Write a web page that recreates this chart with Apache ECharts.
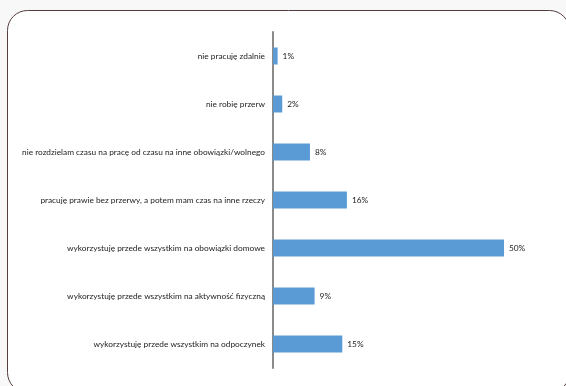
<!DOCTYPE html>
<html>
<head>
<meta charset="utf-8">
<script src="https://cdn.jsdelivr.net/npm/echarts@6/dist/echarts.min.js"></script>
<style>
  html, body { margin: 0; padding: 0; background: #f8f8f8; }
  #chart { width: 566px; height: 386px; }
</style>
</head>
<body>
<div id="chart"></div>
<script>
// categories listed bottom to top (category axis grows upward)
const categories = [
  'wykorzystuję przede wszystkim na odpoczynek',
  'wykorzystuję przede wszystkim na aktywność fizyczną',
  'wykorzystuję przede wszystkim na obowiązki domowe',
  'pracuję prawie bez przerwy, a potem mam czas na inne rzeczy',
  'nie rozdzielam czasu na pracę od czasu na inne obowiązki/wolnego',
  'nie robię przerw',
  'nie pracuję zdalnie'
]
const values = [15, 9, 50, 16, 8, 2, 1]

const chart = echarts.init(document.getElementById('chart'))
chart.setOption({
  animation: false,
  backgroundColor: '#f8f8f8',
  graphic: [{
    type: 'rect',
    z: -10,
    shape: { x: 7.5, y: 10.5, width: 562, height: 382, r: 20 },
    style: { fill: '#ffffff', stroke: '#553c3c', lineWidth: 1 }
  }],
  grid: {
    left: 273,
    top: 32,
    width: 231,
    height: 336
  },
  xAxis: {
    type: 'value',
    min: 0,
    max: 50,
    show: false
  },
  yAxis: {
    type: 'category',
    data: categories,
    axisLine: { show: true, lineStyle: { color: '#8a8a8a', width: 2 } },
    axisTick: { show: false },
    axisLabel: {
      margin: 8,
      fontFamily: 'Lato',
      fontSize: 8.3,
      color: '#222222'
    }
  },
  series: [{
    type: 'bar',
    data: values,
    barWidth: 17,
    itemStyle: { color: '#5b9bd5' },
    label: {
      show: true,
      position: 'right',
      distance: 5,
      formatter: '{c}%',
      fontFamily: 'Lato',
      fontSize: 8.3,
      color: '#222222'
    }
  }]
})
</script>
</body>
</html>
